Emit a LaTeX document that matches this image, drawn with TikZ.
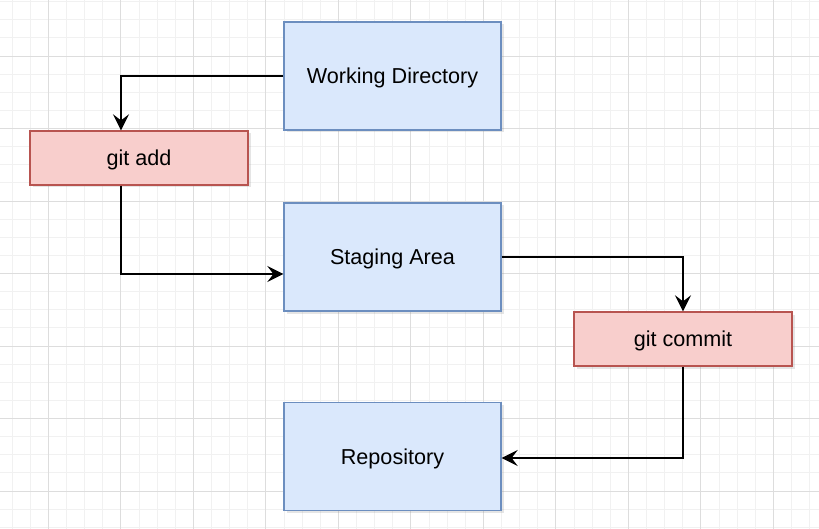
\documentclass[tikz,border=0pt]{standalone}
\usepackage{fontspec}
\setmainfont{Liberation Sans}
\usepackage{xcolor}
\usepackage{tikz}
\usetikzlibrary{
  arrows.meta,
  positioning,
  shadows,
  calc
}

\definecolor{stagefill}{HTML}{DAE8FC}
\definecolor{stageline}{HTML}{6C8EBF}
\definecolor{cmdfill}{HTML}{F8CECC}
\definecolor{cmdline}{HTML}{B85450}
\definecolor{gridminor}{HTML}{F1F1F1}
\definecolor{gridmajor}{HTML}{DDDDDD}

\tikzset{
  area/.style={draw=stageline, fill=stagefill, line width=1.3pt,
    minimum width=217pt, minimum height=108pt, inner sep=0pt,
    text height=15.5pt, text depth=0pt,
    drop shadow={shadow xshift=2.5pt, shadow yshift=-2.5pt, opacity=0.2}},
  gitcmd/.style={draw=cmdline, fill=cmdfill, line width=1.3pt,
    minimum width=218pt, minimum height=54pt, inner sep=0pt,
    text height=15.5pt, text depth=0pt,
    drop shadow={shadow xshift=2.5pt, shadow yshift=-2.5pt, opacity=0.2}},
  flow/.style={line width=2.2pt, -{Stealth[length=16pt, width=16pt, inset=6pt]}}
}

\begin{document}
\begin{tikzpicture}[x=1pt, y=-1pt, font=\fontsize{21.6}{24}\selectfont]
  \useasboundingbox (0,0) rectangle (819,529);
  \fill[white] (0,0) rectangle (819,529);

  % Draw background grid
  \begin{scope}
    \clip (0,0) rectangle (819,529);
    \foreach \k in {-2,...,42}{
      \draw[gridminor, line width=0.8pt] ({48.3+18.125*\k},0) -- ({48.3+18.125*\k},529);
    }
    \foreach \k in {-3,...,27}{
      \draw[gridminor, line width=0.8pt] (0,{56+18.125*\k}) -- (819,{56+18.125*\k});
    }
    \foreach \k in {-1,...,10}{
      \draw[gridmajor, line width=0.9pt] ({48.3+72.5*\k},0) -- ({48.3+72.5*\k},529);
    }
    \foreach \k in {-1,...,6}{
      \draw[gridmajor, line width=0.9pt] (0,{56+72.5*\k}) -- (819,{56+72.5*\k});
    }
  \end{scope}

  % Areas and commands
  \node[area] (workdir) at (392.5,76) {Working Directory};
  \node[gitcmd] (gitadd) at (139,158) {git add};
  \node[area] (staging) at (392.5,257) {Staging Area};
  \node[gitcmd] (gitcommit) at (683,339) {git commit};
  \node[area] (repo) at (392.5,456.5) {Repository};

  % Draw flow arrows
  \draw[flow] (workdir.west) -| ([xshift=-18pt]gitadd.north);
  \draw[flow] ([xshift=-18pt]gitadd.south) |- ([yshift=-17pt]staging.west);
  \draw[flow] (staging.east) -| (gitcommit.north);
  \draw[flow] (gitcommit.south) |- ([yshift=-1.5pt]repo.east);
\end{tikzpicture}
\end{document}
